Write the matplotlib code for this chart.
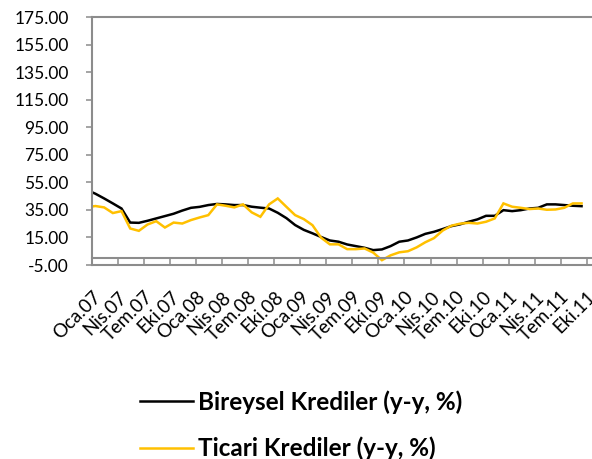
import numpy as np
import matplotlib
matplotlib.use("Agg")
import matplotlib.pyplot as plt
from matplotlib.lines import Line2D
from matplotlib.transforms import ScaledTranslation

plt.rcParams['font.family'] = ['Lato', 'DejaVu Sans']

# Yıllık kredi büyümesi (%), aylık gözlemler: Aralık 2006 - Eylül 2011
first_month = -1  # ay indeksi, Ocak 2007 = 0
bireysel = [49.5, 46.7, 43.3, 39.7, 36.0, 25.8, 25.6, 27.1, 28.8, 30.5,
            32.2, 34.5, 36.5, 37.2, 38.5, 39.3, 39.0, 38.5, 38.5, 37.3,
            36.6, 36.0, 32.9, 29.0, 24.0, 20.5, 18.0, 15.3, 12.8, 11.9,
            9.9, 8.7, 7.5, 5.8, 6.3, 8.7, 11.9, 12.8, 15.0, 17.6,
            19.1, 21.1, 23.2, 24.5, 26.4, 28.1, 30.7, 30.7, 34.8, 34.1,
            34.8, 36.0, 36.5, 39.0, 39.0, 38.5, 38.0, 37.7]
ticari = [37.0, 37.8, 36.8, 32.7, 34.1, 21.5, 19.8, 24.4, 26.8, 22.2,
          25.8, 25.1, 27.6, 29.5, 31.2, 39.0, 38.0, 36.8, 39.0, 33.2,
          30.0, 39.0, 43.3, 37.2, 31.2, 28.3, 23.9, 14.8, 10.0, 10.0,
          6.5, 6.5, 7.0, 4.0, -1.5, 2.0, 4.2, 5.0, 7.8, 11.5,
          14.5, 20.0, 23.5, 25.0, 25.6, 25.1, 26.4, 28.8, 39.7, 37.3,
          36.5, 35.6, 36.0, 35.1, 35.3, 36.5, 39.7, 39.7]
series_names = ["Bireysel Krediler (y-y, %)", "Ticari Krediler (y-y, %)"]
tick_labels = ["Oca.07", "Nis.07", "Tem.07", "Eki.07",
               "Oca.08", "Nis.08", "Tem.08", "Eki.08",
               "Oca.09", "Nis.09", "Tem.09", "Eki.09",
               "Oca.10", "Nis.10", "Tem.10", "Eki.10",
               "Oca.11", "Nis.11", "Tem.11", "Eki.11"]
y_ticks = np.arange(-5, 176, 20)

# observations fall mid-month, ticks mark the first day of the quarter month
months = np.arange(first_month, first_month + len(bireysel))
x = months + 0.4
tick_pos = np.arange(len(tick_labels)) * 3

W, H = 592, 459
fig = plt.figure(figsize=(W / 100, H / 100), dpi=100)
px_month = 8.68
x_max = 60
ax = fig.add_axes([92 / W, 1 - 265 / H, x_max * px_month / W, (265 - 17) / H])

grey = "#8c8c8c"
for side in ("left", "top", "right", "bottom"):
    ax.spines[side].set_color(grey)
    ax.spines[side].set_linewidth(1.5)
ax.spines["bottom"].set_position(("data", 0))

ax.plot(x, bireysel, color="black", lw=1.8, solid_joinstyle="miter")
ax.plot(x, ticari, color="#FFC000", lw=1.8, solid_joinstyle="miter")
ax.axhline(-5, color=grey, lw=1.5, clip_on=False)

ax.set_xlim(0, x_max)
ax.set_ylim(-5, 175)

ax.set_yticks(y_ticks)
ax.set_yticklabels([f"{v:.2f}" for v in y_ticks])
ax.set_xticks(tick_pos)
ax.set_xticklabels(tick_labels)

ax.tick_params(axis="y", direction="out", length=4.3, width=1.1, color=grey,
               pad=12.5, labelsize=12.5, labelcolor="black")
ax.tick_params(axis="x", direction="out", length=5, width=1.1, color=grey,
               pad=21, labelsize=13.5, labelcolor="black", labelrotation=45)
shift = ScaledTranslation(6 / 100, 0, fig.dpi_scale_trans)
for lbl in ax.get_xticklabels():
    lbl.set_ha("right")
    lbl.set_va("center")
    lbl.set_rotation_mode("anchor")
    lbl.set_transform(lbl.get_transform() + shift)

handles = [Line2D([], [], color="black", lw=1.8),
           Line2D([], [], color="#FFC000", lw=1.8)]
fig.legend(handles, series_names, loc="upper left",
           bbox_to_anchor=(140 / W, 1 - 390 / H), frameon=False,
           prop={"weight": "bold", "size": 17.5}, handlelength=2.2,
           handletextpad=0.2, labelspacing=0.95, borderpad=0,
           borderaxespad=0)

fig.savefig("out.png", dpi=100)
